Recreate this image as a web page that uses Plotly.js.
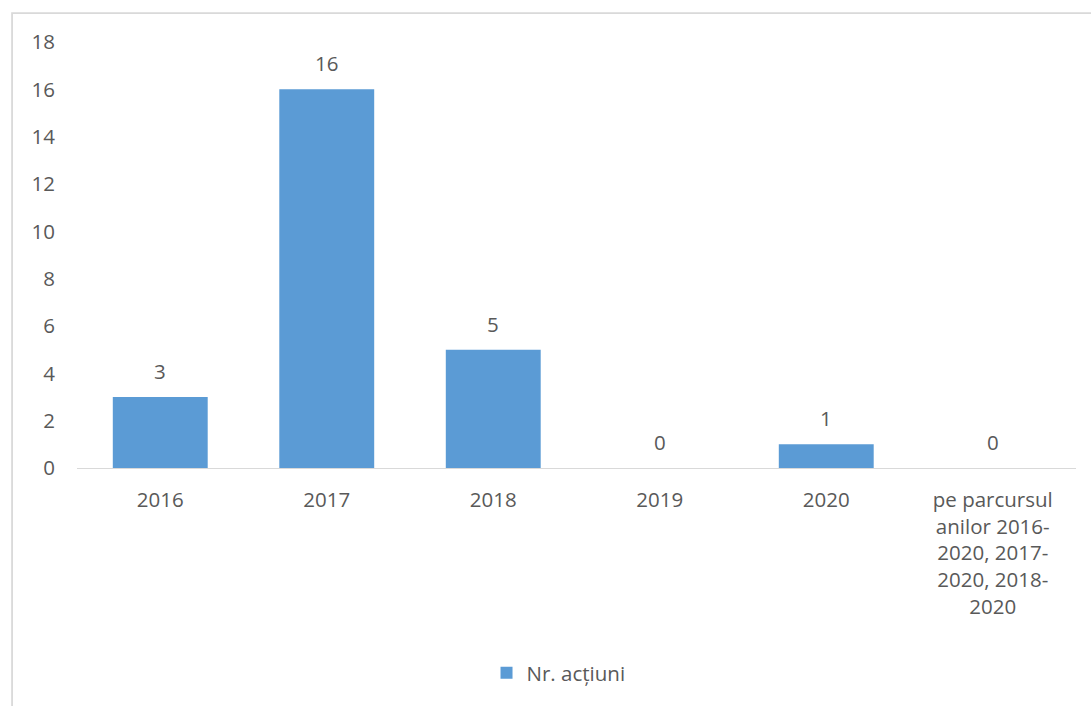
<!DOCTYPE html>
<html>
<head>
<meta charset="utf-8">
<script src="https://cdn.plot.ly/plotly-3.0.1.min.js"></script>
<style>
html,body{margin:0;padding:0;background:#fff;}
#chart{width:1091px;height:706px;}
</style>
</head>
<body>
<div id="chart"></div>
<script>
const categories = ["2016", "2017", "2018", "2019", "2020", "pe parcursul anilor 2016-2020, 2017-2020, 2018-2020"];
const tickLabels = ["2016", "2017", "2018", "2019", "2020", "pe parcursul<br>anilor 2016-<br>2020, 2017-<br>2020, 2018-<br>2020"];
const values = [3, 16, 5, 0, 1, 0];
const seriesName = "Nr. acțiuni";
const yTicks = [0, 2, 4, 6, 8, 10, 12, 14, 16, 18];

const textColor = "#595959";
const fontFamily = "'Open Sans', 'Noto Sans', sans-serif";
const fs = 20.5;

const trace = {
  type: "bar",
  x: categories,
  y: values,
  name: seriesName,
  marker: {color: "#5b9bd5"},
  showlegend: true,
  hoverinfo: "x+y"
};

const annotations = categories.map((c, i) => ({
  x: i, y: values[i], xref: "x", yref: "y",
  text: String(values[i]),
  showarrow: false,
  yanchor: "middle",
  yshift: 26,
  font: {family: fontFamily, size: fs, color: textColor}
}));

const layout = {
  width: 1091, height: 706,
  margin: {l: 77, r: 15, t: 42, b: 238},
  paper_bgcolor: "#fff",
  plot_bgcolor: "#fff",
  bargap: 0.43,
  font: {family: fontFamily, size: fs, color: textColor},
  xaxis: {
    type: "category",
    categoryorder: "array",
    categoryarray: categories,
    range: [-0.5, categories.length - 0.5],
    tickvals: categories,
    ticktext: tickLabels,
    tickangle: 0,
    showgrid: false,
    showline: true,
    linecolor: "#d9d9d9",
    linewidth: 1.3,
    ticks: "",
    ticklabelstandoff: 13,
    tickfont: {family: fontFamily, size: fs, color: textColor},
    zeroline: false,
    fixedrange: true
  },
  yaxis: {
    range: [0, 18],
    tickvals: yTicks,
    ticktext: yTicks.map(String),
    showgrid: false,
    showline: false,
    zeroline: false,
    ticks: "",
    ticklabelstandoff: 21,
    tickfont: {family: fontFamily, size: fs, color: textColor},
    fixedrange: true
  },
  legend: {
    orientation: "h",
    x: 0.482, xanchor: "center",
    y: -0.481, yanchor: "middle",
    font: {family: fontFamily, size: fs, color: textColor},
    itemwidth: 30
  },
  annotations: annotations,
  shapes: [{
    type: "rect", xref: "paper", yref: "paper",
    x0: -0.065, x1: 1.2, y0: -1, y1: 1.068,
    line: {color: "#d9d9d9", width: 1.8},
    fillcolor: "rgba(0,0,0,0)",
    layer: "below"
  }]
};

Plotly.newPlot("chart", [trace], layout, {displayModeBar: false, staticPlot: true});
</script>
</body>
</html>
